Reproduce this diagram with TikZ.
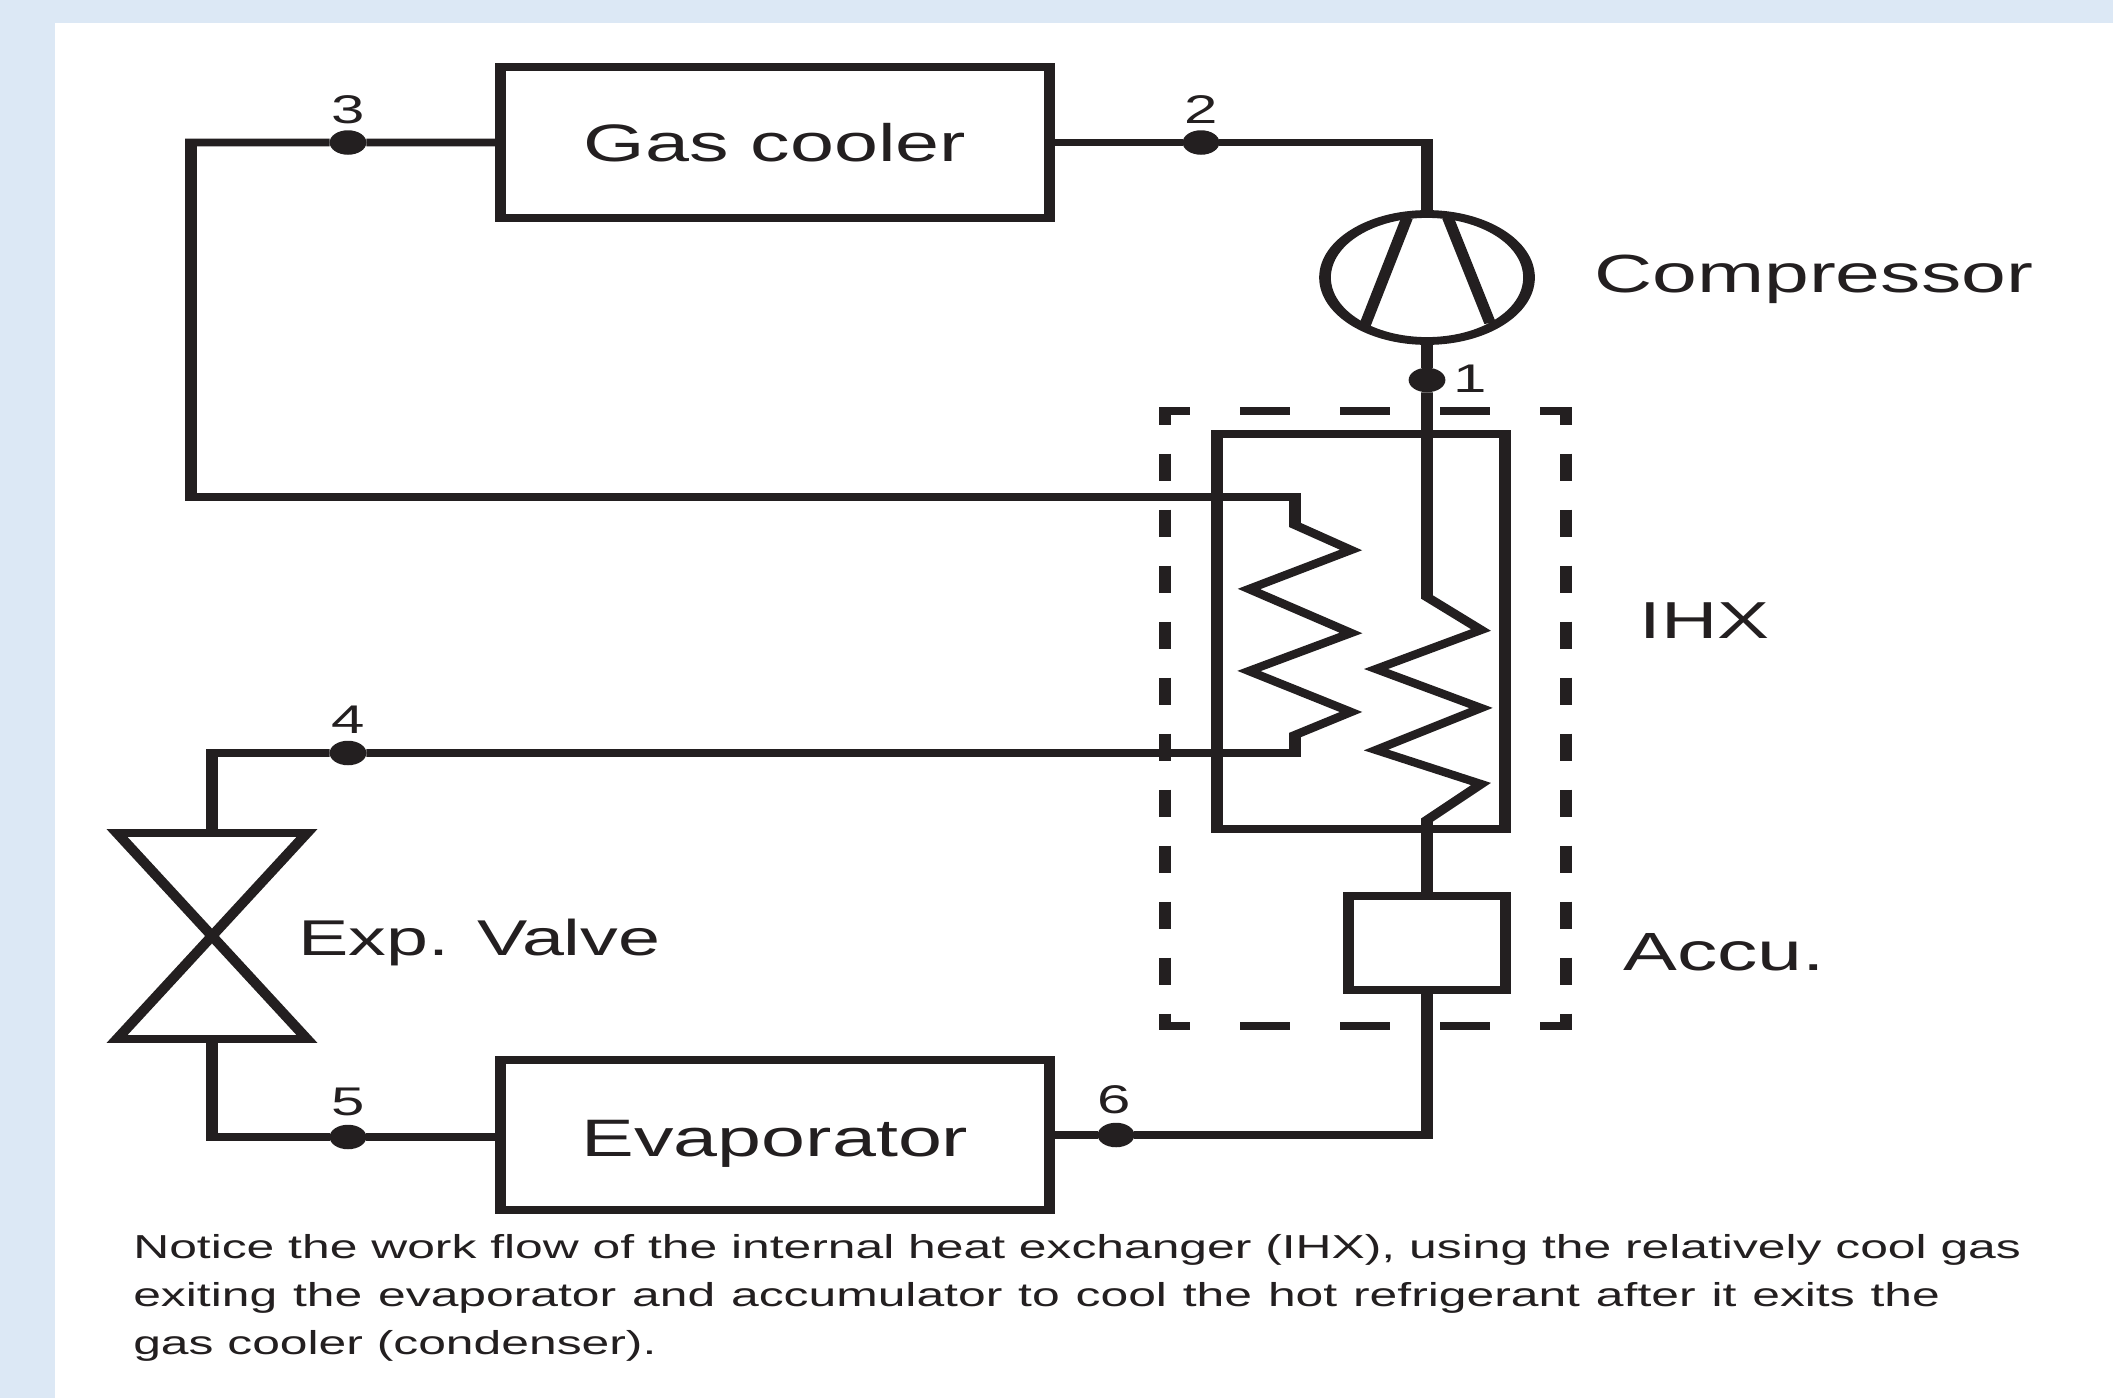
\documentclass[tikz,border=0pt]{standalone}
\usepackage{fontspec}
\usetikzlibrary{shapes.geometric}
\setmainfont{Liberation Sans}
\definecolor{ink}{HTML}{231F20}
\definecolor{page}{HTML}{DCE8F5}
\tikzset{
  pipe/.style={draw=ink,line width=7.8pt,line join=miter,miter limit=10},
  unit/.style={draw=ink,line width=7.8pt,rectangle,outer sep=0pt,inner sep=0pt,fill=white},
  dot/.style={circle,fill=ink,minimum size=24.5pt,inner sep=0pt,outer sep=0pt},
  num/.style={inner sep=0pt,text=ink,font=\fontsize{40}{40}\selectfont},
  lab/.style={inner sep=0pt,text=ink,anchor=base west},
  dashline/.style={draw=ink,line width=7.8pt},
}
\begin{document}
\begin{tikzpicture}[x=1pt,y=-1pt]
\useasboundingbox (0,0) rectangle (2113,1398);
\fill[page] (0,0) rectangle (2113,1398);
\fill[white] (55,23) rectangle (2113,1398);
\begin{scope}[transform canvas={xscale=1.5},x=0.66667pt,y=-1pt]
 % dashed envelope
 \draw[dashline,dash pattern=on 33.333pt off 33.333pt,dash phase=12.67pt] (1159,411) -- (1572,411);
 \draw[dashline,dash pattern=on 33.333pt off 33.333pt,dash phase=12.67pt] (1159,1026) -- (1572,1026);
 \draw[dashline,dash pattern=on 27.5pt off 28.5pt,dash phase=10.5pt] (1165,408) -- (1165,1030);
 \draw[dashline,dash pattern=on 27.5pt off 28.5pt,dash phase=10.5pt] (1566,408) -- (1566,1030);
 % units
 \node[unit,minimum width=366pt,minimum height=151pt,text height=37pt,text depth=0pt,font=\fontsize{52.7}{52.7}\selectfont,text=ink] (cooler) at (775,142.5) {Gas cooler};
 \node[unit,minimum width=366pt,minimum height=150pt,text height=42pt,text depth=0pt,font=\fontsize{52.7}{52.7}\selectfont,text=ink] (evap) at (775,1135) {Evaporator};
 \node[unit,fill=none,minimum width=192pt,minimum height=395pt] (ihx) at (1361,631.5) {};
 \node[unit,minimum width=104.7pt,minimum height=94pt] (accu) at (1427,943) {};
 \node[draw=ink,line width=7.8pt,ellipse,minimum width=136pt,minimum height=127pt,inner sep=0pt,outer sep=0pt] (comp) at (1427,277.5) {};
 % junction points
 \coordinate (cornerTL) at (191,142.5);
 \coordinate (cornerTR) at (1427,142.5);
 \coordinate (cornerBR) at (1427,1135);
 \coordinate (cornerUL) at (191,497);
 \coordinate (coilLtop) at (1295,497);
 \coordinate (coilLbot) at (1295,753);
 \coordinate (cornerVT) at (212,753);
 \coordinate (cornerVB) at (212,1137);
 \coordinate (valveT) at (212,833);
 \coordinate (valveB) at (212,1039);
 \coordinate (valveTL) at (117,833);
 \coordinate (valveTR) at (307,833);
 \coordinate (valveBL) at (117,1039);
 \coordinate (valveBR) at (307,1039);
 \coordinate (coilRtop) at (1427,597);
 \coordinate (coilRbot) at (1427,820);
 % state points
 \node[dot] (p1) at (1427,380) {};
 \node[dot] (p2) at (1201,142.5) {};
 \node[dot] (p3) at (348,142.5) {};
 \node[dot] (p4) at (348,753) {};
 \node[dot] (p5) at (348,1137) {};
 \node[dot] (p6) at (1116,1135) {};
 \node[num] (n1) at (1470,379) {1};
 \node[num] (n2) at (1201,110) {2};
 \node[num] (n3) at (348,110) {3};
 \node[num] (n4) at (348,720) {4};
 \node[num] (n5) at (348,1102) {5};
 \node[num] (n6) at (1114,1100) {6};
 % pipes
 \draw[pipe] (cooler.east) -- (p2) -- (cornerTR) -- (comp.north);
 \draw[pipe] (comp.south) -- (p1) -- (coilRtop) -- (1481,630) -- (1376,669) -- (1481,708) -- (1376,750) -- (1481,784) -- (coilRbot) -- (accu.north);
 \draw[pipe] (accu.south) -- (cornerBR) -- (p6) -- (evap.east);
 \draw[pipe] (cooler.west) -- (p3) -- (cornerTL) -- (cornerUL) -- (coilLtop) -- (1295,525) -- (1351,550) -- (1249,589) -- (1351,633) -- (1249,671) -- (1351,712) -- (1295,735) -- (coilLbot) -- (p4) -- (cornerVT) -- (valveT);
 \draw[pipe] (valveB) -- (cornerVB) -- (p5) -- (p5 -| evap.west);
 \draw[pipe] (valveTL) -- (valveTR) -- (valveBL) -- (valveBR) -- cycle;
 % compressor blades
 \draw[pipe] (1407,218) -- (1365,325);
 \draw[pipe] (1448,218) -- (1490,323);
 % labels
 \node[lab,font=\fontsize{53.7}{53.7}\selectfont] (tComp) at (1594,292) {Compressor};
 \node[lab,font=\fontsize{52}{52}\selectfont] (tIhx) at (1639,638) {IHX};
 \node[lab,font=\fontsize{53.8}{53.8}\selectfont] (tAccu) at (1623,970) {Accu.};
 \node[lab,font=\fontsize{50.3}{50.3}\selectfont] (tValve) at (298,955) {Exp. Valve};
 \node[inner sep=0pt,anchor=north west,align=left,text=ink,font=\fontsize{33.2}{48}\selectfont] (caption) at (133,1234) {Notice the work flow of the internal heat exchanger (IHX), using the relatively cool gas\\{\spaceskip=10.6pt exiting the evaporator and accumulator to cool the hot refrigerant after it exits the}\\gas cooler (condenser).};
\end{scope}
\end{tikzpicture}
\end{document}
